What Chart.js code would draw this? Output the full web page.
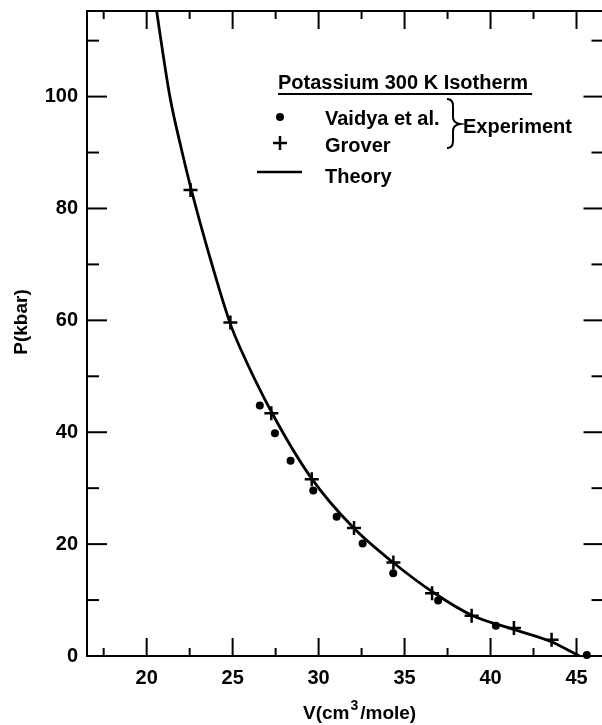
<!DOCTYPE html>
<html>
<head>
<meta charset="utf-8">
<script src="https://cdn.jsdelivr.net/npm/chart.js@4/dist/chart.umd.min.js"></script>
<style>
  html, body { margin: 0; padding: 0; overflow: hidden; background: #fff; }
  #wrap { width: 602px; height: 725px; overflow: hidden; }
</style>
</head>
<body>
<div id="wrap"><canvas id="isotherm" width="613" height="725"></canvas></div>
<script>
// values
const theoryV = [20.4, 21.35, 22.03, 22.6, 23.58, 24.85, 25.42, 27.3, 29.6, 32.0, 34.3, 36.7, 38.9, 41.3, 43.5, 45.17];
const theoryP = [119, 100, 90.5, 83.3, 72.3, 59.5, 55.2, 43.4, 31.7, 23.0, 16.8, 11.3, 7.3, 4.8, 2.6, 0];

const groverV = [22.55, 24.87, 27.25, 29.6, 32.06, 34.35, 36.6, 38.9, 41.36, 43.55];
const groverP = [83.3, 59.6, 43.4, 31.6, 22.9, 16.7, 11.2, 7.2, 5.0, 2.9];

const vaidyaV = [26.58, 27.46, 28.37, 29.69, 31.05, 32.56, 34.34, 36.95, 40.31, 45.6];
const vaidyaP = [44.8, 39.8, 34.9, 29.6, 24.9, 20.1, 14.8, 9.9, 5.4, 0.2];

const xLabels = [20, 25, 30, 35, 40, 45];
const xMinor = [17.5, 22.5, 27.5, 32.5, 37.5, 42.5];
const yLabels = [0, 20, 40, 60, 80, 100];
const yMinor = [10, 30, 50, 70, 90, 110];

const toPts = (xs, ys) => xs.map((v, i) => ({ x: v, y: ys[i] }));
const FONT = '"Liberation Sans", Arial, sans-serif';

// frame + inward ticks on all four sides
const frameTicks = {
    id: 'frameTicks',
    beforeDatasetsDraw(chart) {
        const { ctx, chartArea: a, scales: { x, y } } = chart;
        ctx.save();
        ctx.strokeStyle = '#000';
        ctx.lineWidth = 2;
        ctx.strokeRect(a.left, a.top, a.right - a.left, a.bottom - a.top);
        const tick = (x1, y1, x2, y2) => {
            ctx.beginPath(); ctx.moveTo(x1, y1); ctx.lineTo(x2, y2); ctx.stroke();
        };
        xLabels.forEach(v => {
            const px = x.getPixelForValue(v);
            tick(px, a.bottom, px, a.bottom - 18);
            tick(px, a.top, px, a.top + 18);
        });
        xMinor.forEach(v => {
            const px = x.getPixelForValue(v);
            tick(px, a.bottom, px, a.bottom - 8);
            tick(px, a.top, px, a.top + 8);
        });
        yLabels.forEach(v => {
            const py = y.getPixelForValue(v);
            tick(a.left, py, a.left + 20, py);
            tick(a.right, py, a.right - 20, py);
        });
        yMinor.forEach(v => {
            const py = y.getPixelForValue(v);
            tick(a.left, py, a.left + 12, py);
            tick(a.right, py, a.right - 12, py);
        });
        ctx.restore();
    }
};

// axis titles and the legend block
const annotations = {
    id: 'annotations',
    afterDraw(chart) {
        const { ctx } = chart;
        ctx.save();
        ctx.fillStyle = '#000';
        ctx.strokeStyle = '#000';
        ctx.textBaseline = 'alphabetic';

        // y title
        ctx.font = 'bold 19px ' + FONT;
        ctx.save();
        ctx.translate(27, 322);
        ctx.rotate(-Math.PI / 2);
        ctx.textAlign = 'center';
        ctx.fillText('P(kbar)', 0, 0);
        ctx.restore();

        // x title with superscript
        let tx = 303;
        const ty = 719;
        ctx.textAlign = 'left';
        ctx.fillText('V(cm', tx, ty);
        tx += ctx.measureText('V(cm').width + 1;
        ctx.font = 'bold 14px ' + FONT;
        ctx.fillText('3', tx, ty - 9);
        tx += ctx.measureText('3').width + 2;
        ctx.font = 'bold 19px ' + FONT;
        ctx.fillText('/mole)', tx, ty);

        // legend
        ctx.font = 'bold 20px ' + FONT;
        const title = 'Potassium 300 K Isotherm';
        ctx.fillText(title, 278, 89);
        ctx.lineWidth = 2;
        ctx.beginPath();
        ctx.moveTo(278, 94);
        ctx.lineTo(278 + ctx.measureText(title).width + 4, 94);
        ctx.stroke();

        ctx.fillText('Vaidya et al.', 325, 125);
        ctx.fillText('Grover', 325, 152);
        ctx.fillText('Theory', 325, 183);
        ctx.fillText('Experiment', 463, 133);

        ctx.beginPath();
        ctx.arc(280, 117, 4, 0, Math.PI * 2);
        ctx.fill();

        ctx.lineWidth = 2.5;
        ctx.beginPath();
        ctx.moveTo(273, 143); ctx.lineTo(287, 143);
        ctx.moveTo(280, 136); ctx.lineTo(280, 150);
        ctx.stroke();

        ctx.beginPath();
        ctx.moveTo(257, 172); ctx.lineTo(302, 172);
        ctx.stroke();

        // brace
        ctx.lineWidth = 2;
        ctx.beginPath();
        ctx.moveTo(447, 99);
        ctx.quadraticCurveTo(453, 99, 453, 106);
        ctx.lineTo(453, 117);
        ctx.quadraticCurveTo(453, 123, 460, 124);
        ctx.quadraticCurveTo(453, 125, 453, 131);
        ctx.lineTo(453, 141);
        ctx.quadraticCurveTo(453, 148, 447, 148);
        ctx.stroke();

        ctx.restore();
    }
};

new Chart(document.getElementById('isotherm'), {
    type: 'scatter',
    data: {
        datasets: [{
            label: 'Vaidya et al.',
            data: toPts(vaidyaV, vaidyaP),
            pointStyle: 'circle',
            pointRadius: 4,
            backgroundColor: '#000',
            borderColor: '#000',
            borderWidth: 0,
            clip: false,
            order: 1
        }, {
            label: 'Grover',
            data: toPts(groverV, groverP),
            pointStyle: 'cross',
            pointRadius: 7,
            borderColor: '#000',
            borderWidth: 2.5,
            clip: false,
            order: 0
        }, {
            label: 'Theory',
            data: toPts(theoryV, theoryP),
            showLine: true,
            pointRadius: 0,
            borderColor: '#000',
            borderWidth: 2.8,
            cubicInterpolationMode: 'monotone',
            order: 2
        }]
    },
    options: {
        responsive: false,
        animation: false,
        layout: { padding: { top: 11, right: 2, bottom: 0, left: 0 } },
        plugins: { legend: { display: false }, tooltip: { enabled: false } },
        scales: {
            x: {
                type: 'linear',
                min: 16.53,
                max: 46.57,
                grid: { display: false, drawTicks: false },
                border: { display: false },
                afterBuildTicks: s => { s.ticks = xLabels.map(v => ({ value: v })); },
                afterFit: s => { s.height = 69; s.paddingLeft = 0; s.paddingRight = 0; },
                ticks: { color: '#000', padding: 10, font: { family: FONT, size: 20, weight: 'bold' } }
            },
            y: {
                type: 'linear',
                min: 0,
                max: 115.3,
                grid: { display: false, drawTicks: false },
                border: { display: false },
                afterBuildTicks: s => { s.ticks = yLabels.map(v => ({ value: v })); },
                afterFit: s => { s.width = 87; s.paddingTop = 0; s.paddingBottom = 0; },
                ticks: { color: '#000', padding: 9, font: { family: FONT, size: 20, weight: 'bold' } }
            }
        }
    },
    plugins: [frameTicks, annotations]
});
</script>
</body>
</html>
